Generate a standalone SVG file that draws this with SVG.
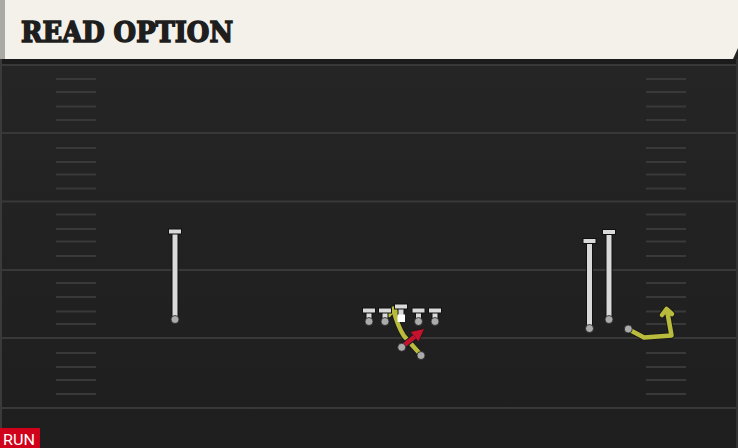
<svg xmlns="http://www.w3.org/2000/svg" width="738" height="448" viewBox="0 0 738 448">
<defs>
<linearGradient id="fld" x1="0" y1="0" x2="0" y2="1">
<stop offset="0" stop-color="#262626"/>
<stop offset="1" stop-color="#1e1e1e"/>
</linearGradient>
<marker id="redhead" viewBox="0 0 10 10" refX="4" refY="5" markerWidth="3" markerHeight="3" orient="auto" markerUnits="strokeWidth">
<path d="M0,0 L10,5 L0,10 Z" fill="#c4122f" stroke="#1a1a1a" stroke-width="0.6"/>
</marker>
<style>
.yard{stroke:#383838;stroke-width:2}
.hash{stroke:#393939;stroke-width:2}
.bar{fill:#dadada;stroke:#111;stroke-width:1}
.stemo{stroke:#111;stroke-width:7;fill:none}
.stem{stroke:#dadada;stroke-width:5;fill:none}
.dot{fill:#ababab;stroke:#222;stroke-width:0.8}
.ro{stroke:#1a1a1a;stroke-width:6.5;fill:none;stroke-linejoin:round;stroke-linecap:round}
.ry{stroke:#b9bb3c;stroke-width:4.5;fill:none;stroke-linejoin:round;stroke-linecap:round}
.rr{stroke:#c4122f;stroke-width:4.5;fill:none;stroke-linecap:round}
</style>
</defs>
<rect x="0" y="0" width="738" height="448" fill="url(#fld)"/>
<rect x="0" y="59" width="738" height="5" fill="#1b1b1b"/>
<g id="field">
<line class="yard" x1="0" y1="65" x2="738" y2="65"/>
<line class="yard" x1="0" y1="133" x2="738" y2="133"/>
<line class="yard" x1="0" y1="201.5" x2="738" y2="201.5"/>
<line class="yard" x1="0" y1="270" x2="738" y2="270"/>
<line class="yard" x1="0" y1="338" x2="738" y2="338"/>
<line class="yard" x1="0" y1="408" x2="738" y2="408"/>
<g id="hashL">
<line class="hash" x1="56" y1="79" x2="96" y2="79"/><line class="hash" x1="56" y1="92" x2="96" y2="92"/><line class="hash" x1="56" y1="106.5" x2="96" y2="106.5"/><line class="hash" x1="56" y1="120" x2="96" y2="120"/>
<line class="hash" x1="56" y1="148" x2="96" y2="148"/><line class="hash" x1="56" y1="162" x2="96" y2="162"/><line class="hash" x1="56" y1="174.5" x2="96" y2="174.5"/><line class="hash" x1="56" y1="188.5" x2="96" y2="188.5"/>
<line class="hash" x1="56" y1="214.5" x2="96" y2="214.5"/><line class="hash" x1="56" y1="229" x2="96" y2="229"/><line class="hash" x1="56" y1="241.5" x2="96" y2="241.5"/><line class="hash" x1="56" y1="256" x2="96" y2="256"/>
<line class="hash" x1="56" y1="283" x2="96" y2="283"/><line class="hash" x1="56" y1="297" x2="96" y2="297"/><line class="hash" x1="56" y1="311.5" x2="96" y2="311.5"/><line class="hash" x1="56" y1="324" x2="96" y2="324"/>
<line class="hash" x1="56" y1="353" x2="96" y2="353"/><line class="hash" x1="56" y1="367" x2="96" y2="367"/><line class="hash" x1="56" y1="380" x2="96" y2="380"/><line class="hash" x1="56" y1="394" x2="96" y2="394"/>
</g>
<g id="hashR">
<line class="hash" x1="646" y1="79" x2="686" y2="79"/><line class="hash" x1="646" y1="92" x2="686" y2="92"/><line class="hash" x1="646" y1="106.5" x2="686" y2="106.5"/><line class="hash" x1="646" y1="120" x2="686" y2="120"/>
<line class="hash" x1="646" y1="148" x2="686" y2="148"/><line class="hash" x1="646" y1="162" x2="686" y2="162"/><line class="hash" x1="646" y1="174.5" x2="686" y2="174.5"/><line class="hash" x1="646" y1="188.5" x2="686" y2="188.5"/>
<line class="hash" x1="646" y1="214.5" x2="686" y2="214.5"/><line class="hash" x1="646" y1="229" x2="686" y2="229"/><line class="hash" x1="646" y1="241.5" x2="686" y2="241.5"/><line class="hash" x1="646" y1="256" x2="686" y2="256"/>
<line class="hash" x1="646" y1="283" x2="686" y2="283"/><line class="hash" x1="646" y1="297" x2="686" y2="297"/><line class="hash" x1="646" y1="311.5" x2="686" y2="311.5"/><line class="hash" x1="646" y1="324" x2="686" y2="324"/>
<line class="hash" x1="646" y1="353" x2="686" y2="353"/><line class="hash" x1="646" y1="367" x2="686" y2="367"/><line class="hash" x1="646" y1="380" x2="686" y2="380"/><line class="hash" x1="646" y1="394" x2="686" y2="394"/>
</g>
<line x1="1" y1="59" x2="1" y2="448" stroke="#3a3a3a" stroke-width="2"/>
<line x1="737" y1="59" x2="737" y2="448" stroke="#333" stroke-width="2"/>
</g>
<g id="header">
<polygon points="0,0 738,0 738,48 733,59 0,59" fill="#f4f1ea"/>
<rect x="0" y="0" width="5" height="59" fill="#a9aaa6"/>
<text x="21" y="42" font-family="'DejaVu Serif', serif" font-weight="bold" font-size="28" fill="#1e1e1e" stroke="#1e1e1e" stroke-width="1.6" stroke-linejoin="miter" textLength="212" lengthAdjust="spacingAndGlyphs">READ OPTION</text>
</g>
<g id="connectors">
<g id="route-rb">
<path class="ro" d="M421,355 L404,336 Q398,327 393.5,310 M389,315 L393.5,308.5 L398.5,314"/>
<path class="ry" d="M421,355 L404,336 Q398,327 393.5,310 M389,315 L393.5,308.5 L398.5,314"/>
</g>
<g id="route-wr">
<path class="ro" d="M628,329 L644,337.5 L671.5,335.5 L667,310 M662,315 L666.5,309 L672,314"/>
<path class="ry" d="M628,329 L644,337.5 L671.5,335.5 L667,310 M662,315 L666.5,309 L672,314"/>
</g>
<g id="route-qb">
<line x1="402" y1="347" x2="418" y2="334" stroke="#1a1a1a" stroke-width="6.5" stroke-linecap="round"/>
<line class="rr" x1="402" y1="347" x2="418.5" y2="333.5" marker-end="url(#redhead)"/>
</g>
</g>
<g id="wr1">
<line class="stemo" x1="175" y1="232" x2="175" y2="319"/><line class="stem" x1="175" y1="232" x2="175" y2="319"/>
<rect class="bar" x="168.5" y="229" width="13" height="5"/>
<circle class="dot" cx="175" cy="319.5" r="4"/>
</g>
<g id="wr2">
<line class="stemo" x1="589.5" y1="241" x2="589.5" y2="328"/><line class="stem" x1="589.5" y1="241" x2="589.5" y2="328"/>
<rect class="bar" x="583" y="238.5" width="13" height="5"/>
<circle class="dot" cx="589.5" cy="328.5" r="4"/>
</g>
<g id="wr3">
<line class="stemo" x1="609" y1="232" x2="609" y2="319"/><line class="stem" x1="609" y1="232" x2="609" y2="319"/>
<rect class="bar" x="602.5" y="229.5" width="13" height="5"/>
<circle class="dot" cx="609" cy="319.5" r="4"/>
</g>
<g id="lt">
<line class="stemo" x1="369" y1="311" x2="369" y2="321"/><line class="stem" x1="369" y1="311" x2="369" y2="321"/>
<rect class="bar" x="362.5" y="308" width="13" height="5"/>
<circle class="dot" cx="369" cy="321.5" r="4"/>
</g>
<g id="lg">
<line class="stemo" x1="385" y1="311" x2="385" y2="321"/><line class="stem" x1="385" y1="311" x2="385" y2="321"/>
<rect class="bar" x="378.5" y="308" width="13" height="5"/>
<circle class="dot" cx="385" cy="321.5" r="4"/>
</g>
<g id="c">
<line class="stemo" x1="401" y1="308" x2="401" y2="316"/><line class="stem" x1="401" y1="307" x2="401" y2="316"/>
<rect class="bar" x="394.5" y="304" width="13" height="5"/>
<rect x="397.5" y="314.5" width="7.5" height="7.5" fill="#ffffff"/>
</g>
<g id="rg">
<line class="stemo" x1="418.5" y1="311" x2="418.5" y2="321"/><line class="stem" x1="418.5" y1="311" x2="418.5" y2="321"/>
<rect class="bar" x="412" y="308" width="13" height="5"/>
<circle class="dot" cx="418.5" cy="321.5" r="4"/>
</g>
<g id="rt">
<line class="stemo" x1="435" y1="311" x2="435" y2="321"/><line class="stem" x1="435" y1="311" x2="435" y2="321"/>
<rect class="bar" x="428.5" y="308" width="13" height="5"/>
<circle class="dot" cx="435" cy="321.5" r="4"/>
</g>
<g id="qb"><circle class="dot" cx="401.7" cy="347.3" r="4"/></g>
<g id="rb"><circle class="dot" cx="421" cy="355.5" r="4"/></g>
<g id="wr-route-start"><circle class="dot" cx="628.3" cy="329" r="4"/></g>
<g id="tag">
<rect x="0" y="428" width="40" height="20" fill="#d0021b"/>
<text x="3" y="444.5" font-family="Roboto, 'Liberation Sans', sans-serif" font-size="15" fill="#ffffff" textLength="32" lengthAdjust="spacingAndGlyphs">RUN</text>
</g>
</svg>
